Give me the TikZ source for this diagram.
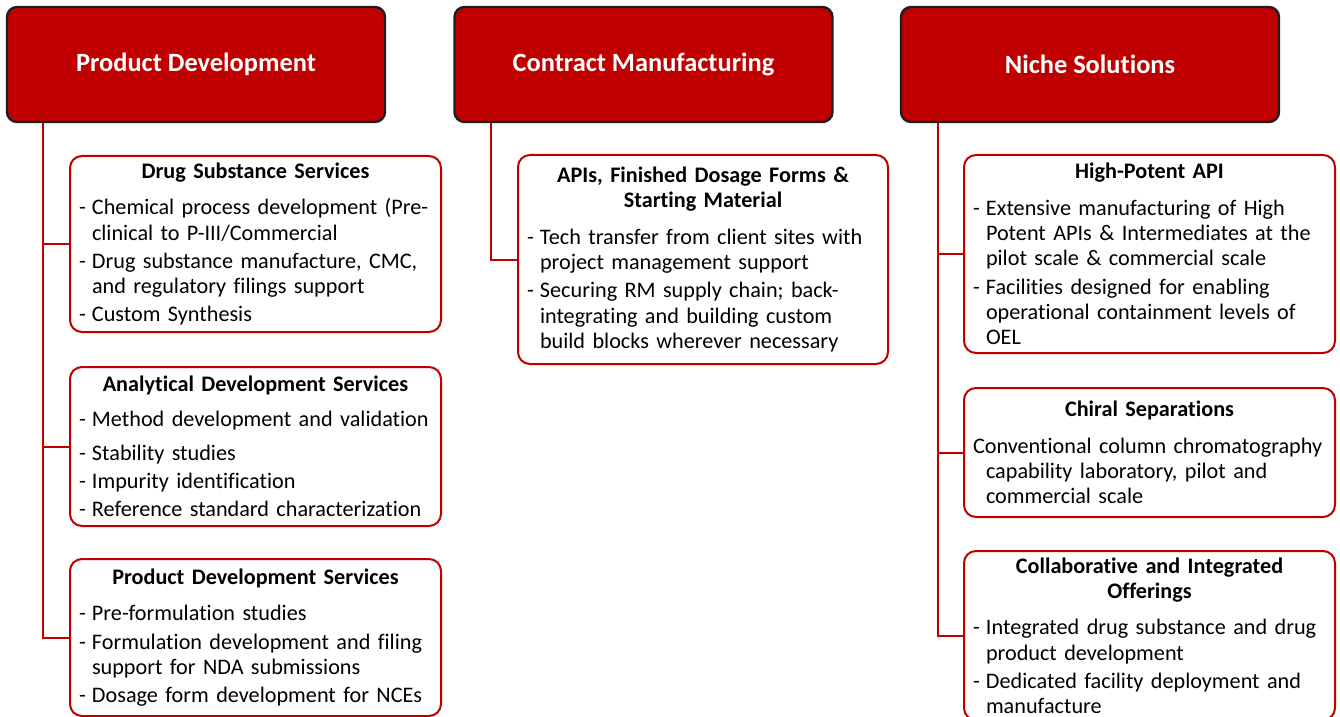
\documentclass[tikz,border=0pt]{standalone}
\usepackage{fontspec}
\setmainfont[Ligatures=NoCommon]{Carlito}
\usepackage{tikz}
\usepackage{xcolor}
\usetikzlibrary{positioning}
\definecolor{headred}{RGB}{192,0,0}
\definecolor{headedge}{RGB}{30,30,30}

% text inside the service boxes
\newlength\dashw
\setlength\dashw{6.5pt}
\newcommand\ttl[1]{{\centering\bfseries #1\par}\vspace{4.2pt}}
\newcommand\itm[1]{\hangindent=\dashw\hangafter=1\noindent\makebox[\dashw][l]{-}#1\par}
\newcommand\txt[1]{\hangindent=\dashw\hangafter=1\noindent #1\par}
\newcommand\boxfont{\fontsize{11.1}{12.6}\selectfont\raggedright\parindent=0pt\parskip=1.5pt}

\begin{document}
\begin{tikzpicture}[x=0.5pt,y=-0.5pt,
  head/.style={draw=headedge,line width=1.2pt,fill=headred,rounded corners=5pt,
    minimum width=189pt,minimum height=57.5pt,text=white,
    font=\fontsize{13.2}{15}\selectfont\bfseries},
  subbox/.style={draw=headred,line width=1pt,fill=white,rounded corners=6pt,
    inner xsep=4.5pt,inner ysep=0pt,text width=176.5pt,font=\boxfont},
  link/.style={draw=headred,line width=1pt}]
  \useasboundingbox (0,0) rectangle (1340,717);
  \clip (0,0) rectangle (1340,717);

  % column heads
  \node[head] (pd) at (196,64.5) {Product Development};
  \node[head] (cm) at (643.5,64.5) {Contract Manufacturing};
  \node[head] (ns) at (1090,64.5) {Niche Solutions};

  % product development
  \node[subbox,minimum height=88pt] (dss) at (255.5,244) {%
    \ttl{Drug Substance Services}
    \itm{Chemical process development (Pre-\newline clinical to P-III/Commercial}
    \itm{Drug substance manufacture, CMC,\newline and regulatory filings support}
    \itm{Custom Synthesis}};
  \node[subbox,minimum height=79.5pt] (ads) at (255.5,446.5) {%
    \ttl{Analytical Development Services}\vspace{-1pt}
    \itm{Method development and validation}\vspace{3pt}
    \itm{Stability studies}
    \itm{Impurity identification}
    \itm{Reference standard characterization}};
  \node[subbox,minimum height=78.5pt] (pds) at (255.5,637.5) {%
    \ttl{Product Development Services}
    \itm{Pre-formulation studies}
    \itm{Formulation development and filing\newline support for NDA submissions}
    \itm{Dosage form development for NCEs}};

  % contract manufacturing
  \node[subbox,minimum height=104.5pt,text width=176pt] (api) at (703,259.5) {%
    \ttl{APIs, Finished Dosage Forms \&\\Starting Material}
    \itm{Tech transfer from client sites with\newline project management support}
    \itm{Securing RM supply chain; back-\newline integrating and building custom\newline build blocks wherever necessary}};

  % niche solutions
  \node[subbox,minimum height=99pt] (hpa) at (1149.5,254) {%
    \ttl{High-Potent API}
    \itm{Extensive manufacturing of High\newline Potent APIs \& Intermediates at the\newline pilot scale \& commercial scale}
    \itm{Facilities designed for enabling\newline operational containment levels of\newline OEL}};
  \node[subbox,minimum height=64.5pt] (chs) at (1149.5,452.5) {%
    \ttl{Chiral Separations}
    \txt{Conventional column chromatography\newline capability laboratory, pilot and\newline commercial scale}};
  \node[subbox,minimum height=84.5pt] (cio) at (1149.5,635.5) {%
    \ttl{Collaborative and Integrated\\Offerings}
    \itm{Integrated drug substance and drug\newline product development}
    \itm{Dedicated facility deployment and\newline manufacture}};

  % connectors
  \draw[link] (pd.south west) ++(37,0) |- (dss.west);
  \draw[link] (pd.south west) ++(37,0) |- (ads.west);
  \draw[link] (pd.south west) ++(37,0) |- (pds.west);
  \draw[link] (cm.south west) ++(38,0) |- (api.west);
  \draw[link] (ns.south west) ++(38,0) |- (hpa.west);
  \draw[link] (ns.south west) ++(38,0) |- (chs.west);
  \draw[link] (ns.south west) ++(38,0) |- (cio.west);
\end{tikzpicture}
\end{document}
